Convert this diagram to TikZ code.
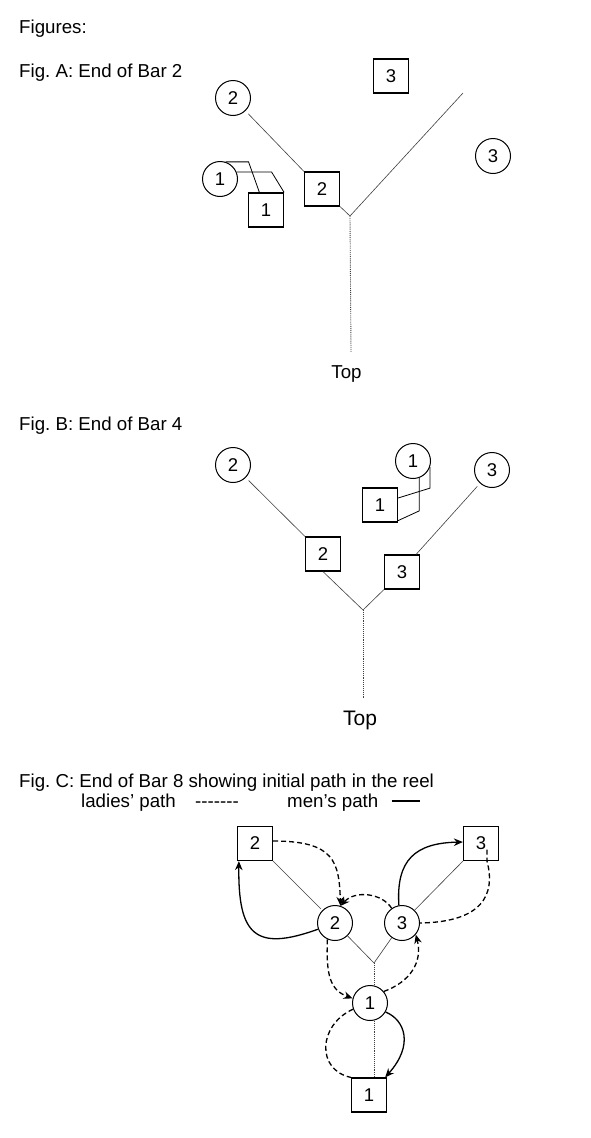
\documentclass[tikz,border=0pt]{standalone}
\usepackage{fontspec}
\setmainfont{Liberation Sans}
\usetikzlibrary{arrows.meta,calc}
\begin{document}
\frenchspacing
\begin{tikzpicture}[x=1pt,y=-1pt,
  lbl/.style={font=\fontsize{18.7}{21}\selectfont, inner sep=0pt},
  sq/.style={draw, line width=1.2pt, minimum width=35pt, minimum height=34pt, inner sep=0pt, font=\fontsize{18.5}{18.5}\selectfont},
  ci/.style={draw, circle, line width=1pt, minimum size=35pt, inner sep=0pt, font=\fontsize{18.5}{18.5}\selectfont},
  arm/.style={line width=0.6pt, black!75},
  stem/.style={line width=0.9pt, densely dotted, black!75},
  trail/.style={line width=0.8pt},
  men/.style={line width=1.3pt, -{Stealth[length=9pt,width=7.5pt]}},
  ladies/.style={line width=1.3pt, dash pattern=on 5pt off 3pt},
  ladiesarr/.style={ladies, -{Stealth[length=9pt,width=7.5pt]}},
]
\fill[white] (0,0) rectangle (591,1138);
\useasboundingbox (0,0) rectangle (591,1138);

% ---------- headings ----------
\node[lbl, anchor=base west] (figs) at (19,33) {Figures:};
\node[lbl, anchor=base west] (figA) at (19,77) {Fig. A: End of Bar 2};
\node[lbl, anchor=base west] (figB) at (19,430) {Fig. B: End of Bar 4};
\node[lbl, anchor=base west] (figC) at (19,787) {Fig. C: End of Bar 8 showing initial path in the reel};
\node[lbl, anchor=base west] (ladies) at (81,807) {ladies’ path};
\node[lbl, anchor=base west] (ldash) at (195,807) {-\kern0pt-\kern0pt-\kern0pt-\kern0pt-\kern0pt-\kern0pt-};
\node[lbl, anchor=base west] (menlbl) at (287,807) {men’s path};
\draw[line width=1.2pt] ([xshift=13pt,yshift=6pt]menlbl.base east) -- ++(28,0);

% ---------- Fig A ----------
\node[ci] (ciA2) at (233,98) {2};
\node[sq] (sqA3) at (391,76) {3};
\node[ci] (ciA3) at (493,156) {3};
\node[sq] (sqA2) at (322,189) {2};
\node[ci] (ciA1) at (220,179) {1};
\node[sq] (sqA1) at (266,210) {1};
\coordinate (jA) at (350,216);
\coordinate (armA3) at (463,93);
\coordinate (stemA) at (351,352);
\node[lbl, anchor=base] (topA) at (346.5,378) {Top};

\draw[arm, shorten <=4pt] (ciA2) -- (sqA2.north west);
\draw[arm] (sqA2.south east) -- (jA) -- (armA3);
\draw[stem] (jA) -- (stemA);
\draw[trail] (ciA1.72) -- ++(23,0) -- ([xshift=11.5pt]sqA1.north west);
\draw[trail] (ciA1.23) -- ++(35,0) -- (sqA1.north east);

% ---------- Fig B ----------
\node[ci] (ciB2) at (233,465) {2};
\node[ci] (ciB1) at (413,461) {1};
\node[ci] (ciB3) at (492,470) {3};
\node[sq] (sqB1) at (380,505) {1};
\node[sq] (sqB2) at (323,554) {2};
\node[sq] (sqB3) at (402,572) {3};
\coordinate (jB) at (363,610);
\coordinate (stemB) at (363,698);
\node[lbl, font=\fontsize{21}{21}\selectfont, anchor=base] (topB) at (360,725) {Top};

\draw[arm, shorten <=4pt] (ciB2) -- (sqB2.north west);
\draw[arm] (sqB2.south) -- (jB) -- (sqB3.south west);
\draw[arm, shorten >=4pt] ([xshift=-4pt]sqB3.north east) -- (ciB3);
\draw[stem] (jB) -- (stemB);
\draw[trail] (ciB1.-70) -- ++(0,33) -- ([yshift=2pt]sqB1.south east);
\draw[trail] (ciB1.-20) -- ++(0,21) -- ([yshift=7pt]sqB1.east);

% ---------- Fig C ----------
\node[sq] (sqC2) at (255,843.5) {2};
\node[sq] (sqC3) at (481,843.5) {3};
\node[ci] (ciC2) at (335,923) {2};
\node[ci] (ciC3) at (402,923) {3};
\node[ci] (ciC1) at (370,1003) {1};
\node[sq] (sqC1) at (369,1095) {1};
\coordinate (jC) at (374,963);

\draw[arm, shorten >=2pt] (sqC2.south east) -- (ciC2);
\draw[arm] (ciC2) -- (jC) -- (ciC3);
\draw[arm] (ciC3) -- (sqC3.south west);
\draw[stem] (jC) -- (jC |- ciC1.north);
\draw[stem] (jC |- ciC1.south) -- (jC |- sqC1.north);

% men's paths
\draw[men] (ciC2.200) .. controls (255,952) and (238,935) .. ([xshift=2pt]sqC2.south west);
\draw[men] (ciC3.100) .. controls (396,860) and (415,843) .. ([yshift=1.5pt]sqC3.west);
\draw[men] (ciC1.-30) .. controls (405,1020) and (414,1045) .. ([xshift=-2pt]sqC1.north east);

% ladies' paths
\draw[ladiesarr] ([yshift=2.5pt]sqC2.east) .. controls (335,841) and (339,862) .. (ciC2.72);
\draw[ladiesarr] (ciC3.125) .. controls (382,893) and (355,890) .. (ciC2.72);
\draw[ladies] ([xshift=6pt,yshift=-6pt]sqC3.center) -- ([xshift=6pt]sqC3.south) .. controls (496,895) and (482,922) .. (ciC3.east);
\draw[ladiesarr] (ciC2.-115) .. controls (326,975) and (330,990) .. (ciC1.165);
\draw[ladiesarr] (ciC1.40) .. controls (410,982) and (423,962) .. (ciC3.-40);
\draw[ladies] (ciC1.200) .. controls (318,1025) and (316,1070) .. (sqC1.north west);
\end{tikzpicture}
\end{document}
